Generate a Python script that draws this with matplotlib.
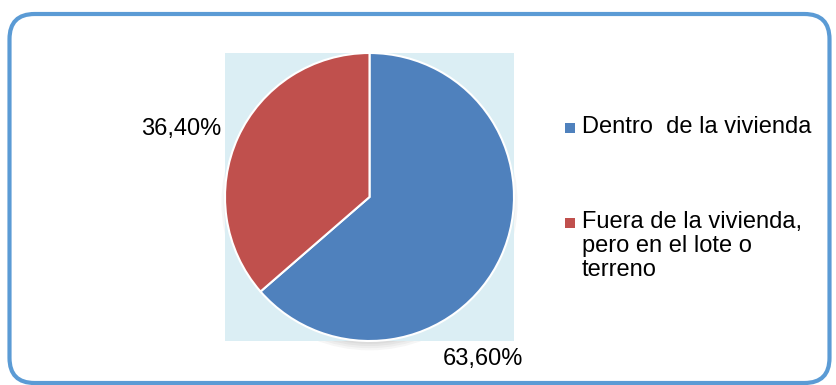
import matplotlib.pyplot as plt
from matplotlib.patches import FancyBboxPatch, Rectangle, Ellipse

plt.rcParams["font.family"] = ["Liberation Sans", "DejaVu Sans"]

# ubicacion del servicio sanitario (porcentajes)
categories = ["Dentro  de la vivienda", "Fuera de la vivienda,\npero en el lote o\nterreno"]
values = [63.6, 36.4]
colors = ["#4F81BD", "#C0504D"]

W, H = 836, 385
fig = plt.figure(figsize=(W / 100, H / 100), dpi=100)


def px(x, y, w, h):
    # pixel box (top-left origin) -> figure fraction
    return [x / W, 1 - (y + h) / H, w / W, h / H]


# rounded frame around the chart
frame = FancyBboxPatch(
    (9.5 / W, 1 - 383 / H), 820 / W, 369 / H,
    boxstyle="round,pad=0,rounding_size=0.03",
    transform=fig.transFigure, facecolor="white",
    edgecolor="#5B9BD5", linewidth=3.0, zorder=0,
    mutation_aspect=W / H,
)
fig.patches.append(frame)

# soft shadow below the pie (only the part under the plot area shows)
sh = fig.add_axes(px(225, 53, 289, 288), zorder=1)
sh.set_xlim(-1.0, 1.0)
sh.set_ylim(-1.0, 1.0)
sh.axis("off")
for i in range(6):
    d = 1.9 + i * 0.03
    sh.add_patch(Ellipse((0, -0.04), d, d, color="#000000",
                         alpha=0.035, lw=0, clip_on=False))

ax = fig.add_axes(px(225, 53, 289, 288), zorder=2)
wedges, _ = ax.pie(
    values,
    colors=colors,
    startangle=90,
    counterclock=False,
    radius=1.0,
    wedgeprops=dict(edgecolor="white", linewidth=1.5),
)
ax.set_frame_on(True)
ax.set_facecolor("#DBEEF4")
ax.set_xlim(-1.0, 1.0)
ax.set_ylim(-1.0, 1.0)
ax.set_aspect("auto")
ax.set_xticks([])
ax.set_yticks([])
for s in ax.spines.values():
    s.set_visible(False)

# value labels outside the slices
label_pos = [(523 / W, 1 - 359 / H), (221 / W, 1 - 129 / H)]
for v, (lx, ly) in zip(values, label_pos):
    fig.text(lx, ly, f"{v:.2f}%".replace(".", ","), fontsize=17,
             ha="right", va="center", color="black", zorder=5)

# legend
legend_rows = [128, 223]
for cat, col, ty in zip(categories, colors, legend_rows):
    fig.patches.append(Rectangle((565 / W, 1 - (ty + 5) / H), 10 / W, 10 / H,
                                 transform=fig.transFigure, facecolor=col,
                                 edgecolor="none", zorder=5))
    fig.text(582 / W, 1 - (ty - 12) / H, cat, fontsize=17, ha="left", va="top",
             linespacing=1.13, color="black", zorder=5)

fig.savefig("out.png", dpi=100)
